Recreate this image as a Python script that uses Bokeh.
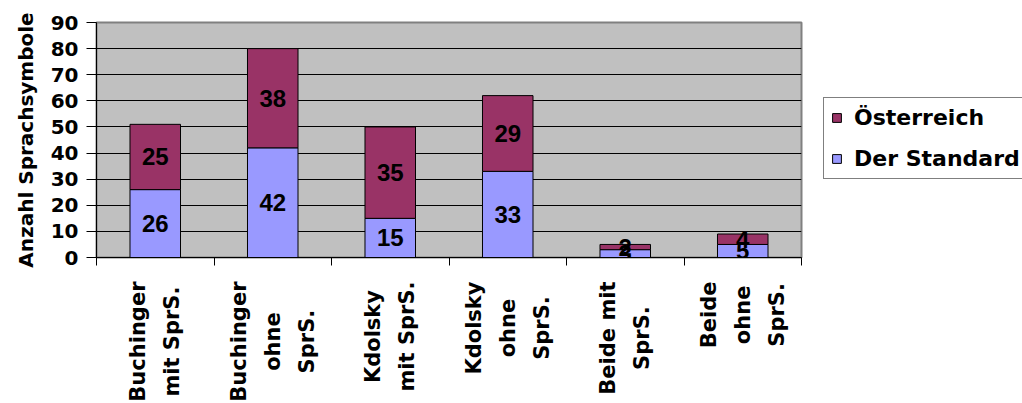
from math import pi
from bokeh.plotting import figure
from bokeh.layouts import column
from bokeh.core.properties import value
from bokeh.models import (Range1d, LinearAxis, FixedTicker,
                          Legend, LegendItem, ColumnDataSource, LabelSet)
from bokeh.embed import file_html
from bokeh.resources import INLINE

categories = ["Buchinger\nmit SprS.", "Buchinger\nohne\nSprS.", "Kdolsky\nmit SprS.",
              "Kdolsky\nohne\nSprS.", "Beide mit\nSprS.", "Beide\nohne\nSprS."]
der_standard = [26, 42, 15, 33, 3, 5]
oesterreich = [25, 38, 35, 29, 2, 4]
y_ticks = [0, 10, 20, 30, 40, 50, 60, 70, 80, 90]
series_names = ["Der Standard", "Österreich"]
colors = ["#9999FF", "#993366"]

FONT = "DejaVu Sans"
FS = "20px"

n = len(categories)
xpos = list(range(n))

src = ColumnDataSource(dict(
    x=xpos,
    ds=der_standard,
    oe=oesterreich,
    ds_mid=[v / 2 for v in der_standard],
    oe_mid=[d + o / 2 for d, o in zip(der_standard, oesterreich)],
    ds_txt=[str(v) for v in der_standard],
    oe_txt=[str(v) for v in oesterreich],
))

p = figure(x_range=Range1d(-0.5, n - 0.5), y_range=Range1d(0, 90),
           frame_width=705, frame_height=235,
           min_border_left=96, min_border_right=221, min_border_top=22, min_border_bottom=16,
           x_axis_location=None, toolbar_location=None, output_backend="svg",
           background_fill_color="#C0C0C0", border_fill_color="white",
           outline_line_color="#808080", outline_line_width=2)

renderers = p.vbar_stack(["ds", "oe"], x="x", width=0.43, source=src,
                         fill_color=colors, line_color="black", line_width=1)

# y axis
ya = p.yaxis[0]
ya.ticker = FixedTicker(ticks=y_ticks)
ya.major_tick_out = 10
ya.major_tick_in = 0
ya.minor_tick_line_color = None
ya.axis_line_color = "black"
ya.major_tick_line_color = "black"
ya.major_label_text_font = FONT
ya.major_label_text_font_style = "bold"
ya.major_label_text_font_size = FS
ya.major_label_text_color = "black"
ya.major_label_standoff = 8
ya.axis_label = "Anzahl Sprachsymbole"
ya.axis_label_text_font = FONT
ya.axis_label_text_font_style = "bold"
ya.axis_label_text_font_size = FS
ya.axis_label_text_color = "black"
ya.axis_label_standoff = 10

p.ygrid.ticker = FixedTicker(ticks=y_ticks)
p.ygrid.grid_line_color = "black"
p.ygrid.grid_line_width = 1
p.xgrid.visible = False

# tick-only axis at category boundaries
ta = LinearAxis(ticker=FixedTicker(ticks=[i - 0.5 for i in range(n + 1)]))
ta.major_tick_out = 8
ta.major_tick_in = 0
ta.minor_tick_line_color = None
ta.axis_line_color = "black"
ta.axis_line_width = 1
ta.major_label_text_font_size = "0px"
ta.major_label_text_color = None
ta.major_label_standoff = 0
p.add_layout(ta, "below")

# value labels
for ycol, tcol in (("ds_mid", "ds_txt"), ("oe_mid", "oe_txt")):
    p.add_layout(LabelSet(x="x", y=ycol, text=tcol, source=src,
                          text_align="center", text_baseline="middle",
                          text_font=value("Liberation Sans"), text_font_style="bold",
                          text_font_size="24px", text_color="black"))

legend = Legend(items=[LegendItem(label=series_names[1], renderers=[renderers[1]]),
                       LegendItem(label=series_names[0], renderers=[renderers[0]])],
                location=(22, 78))
legend.border_line_color = "black"
legend.border_line_width = 1.5
legend.background_fill_color = "white"
legend.background_fill_alpha = 1
legend.label_text_font = FONT
legend.label_text_font_style = "bold"
legend.label_text_font_size = "22px"
legend.label_text_color = "black"
legend.glyph_width = 11
legend.glyph_height = 11
legend.label_standoff = 12
legend.padding = 7
legend.spacing = 16
legend.margin = 0
p.add_layout(legend, "right")

# category labels in a panel below, sharing the x range
lab = figure(x_range=p.x_range, y_range=Range1d(0, 1),
             frame_width=705, frame_height=130,
             min_border_left=96, min_border_right=221, min_border_top=0, min_border_bottom=0,
             x_axis_location=None, y_axis_location=None, toolbar_location=None,
             output_backend="svg", outline_line_color=None,
             background_fill_color="white", border_fill_color="white")
lab.xgrid.visible = False
lab.ygrid.visible = False
lab_src = ColumnDataSource(dict(x=xpos, y=[1] * n, t=categories))
lab.text(x="x", y="y", text="t", source=lab_src, angle=pi / 2,
         anchor="center_right", text_align="center", text_baseline="middle",
         y_offset=8, text_font=value(FONT), text_font_style="bold",
         text_font_size="21px", text_color="black", text_line_height=1.42)

layout = column(p, lab, spacing=0)
open("out.html", "w").write(file_html(layout, INLINE))
